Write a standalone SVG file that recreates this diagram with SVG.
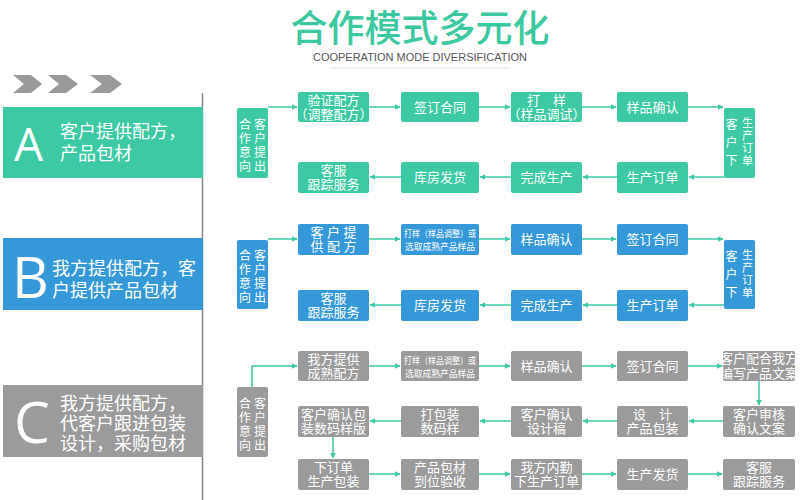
<svg xmlns="http://www.w3.org/2000/svg" width="800" height="500" viewBox="0 0 800 500">
<style>
text{font-family:"Liberation Sans","Noto Sans CJK SC",sans-serif;}
.t{fill:#3cc9a3}.b{fill:#3598d9}.g{fill:#9b9b9b}
.w{fill:#fff;font-size:13px;text-anchor:middle}
.ws{fill:#fff;font-size:9px;text-anchor:middle}
.v{fill:#fff;font-size:12px;text-anchor:middle}
.vs{fill:#fff;font-size:11px;text-anchor:middle}
.pan{fill:#fff;font-size:18px}
.big{fill:#fff;font-family:"Open Sans","Liberation Sans",sans-serif}
.c{stroke:#3cc9a3;stroke-width:1.5;fill:none;marker-end:url(#ah)}
</style>
<defs>
<marker id="ah" viewBox="0 0 10 10" refX="9" refY="5" markerWidth="6" markerHeight="6" orient="auto" markerUnits="userSpaceOnUse"><path d="M0,0 L10,5 L0,10 z" fill="#3cc9a3"/></marker>
</defs>
<rect width="800" height="500" fill="#fff"/>
<g id="title">
<text x="420" y="42" text-anchor="middle" font-size="37" font-weight="500" fill="#3cc9a0">合作模式多元化</text>
<text x="420" y="61" text-anchor="middle" font-size="11" fill="#555">COOPERATION MODE DIVERSIFICATION</text>
<line x1="330" y1="68" x2="510" y2="68" stroke="#e4e4e4" stroke-width="1"/>
</g>
<g id="chevrons" fill="#9a9a9a">
<path d="M13,75 L31,75 L42,84 L31,93 L13,93 L24,84 z"/>
<path d="M48,75 L66,75 L78,84 L66,93 L48,93 L59,84 z"/>
<path d="M90,75 L110,75 L122,84 L110,93 L90,93 L102,84 z"/>
</g>
<line x1="202.500" y1="93" x2="202.500" y2="500" stroke="#888" stroke-width="1.500"/>
<g id="panelA">
<rect x="3" y="107" width="200" height="71" class="t"/>
<text x="14" y="161" font-size="46" class="big">A</text>
<text x="60" y="138" class="pan">客户提供配方，</text>
<text x="60" y="160" class="pan">产品包材</text>
</g>
<g id="panelB">
<rect x="3" y="238" width="200" height="72" class="b"/>
<text x="12" y="298" font-size="57" class="big">B</text>
<text x="52" y="275" class="pan" font-size="17.500">我方提供配方，客</text>
<text x="52" y="297" class="pan" font-size="17.500">户提供产品包材</text>
</g>
<g id="panelC">
<rect x="3" y="385" width="200" height="72" class="g"/>
<text x="14" y="443" font-size="57" class="big">C</text>
<text x="60" y="410" class="pan" font-size="17">我方提供配方，</text>
<text x="60" y="430" class="pan" font-size="17">代客户跟进包装</text>
<text x="60" y="450" class="pan" font-size="17">设计，采购包材</text>
</g>

<g id="connectors">
<path class="c" d="M268,107 H297"/>
<path class="c" d="M369,107 H400"/>
<path class="c" d="M479,107 H510"/>
<path class="c" d="M582,107 H616"/>
<path class="c" d="M688,107 H723"/>
<path class="c" d="M724,177 H689"/>
<path class="c" d="M617,177 H583"/>
<path class="c" d="M511,177 H480"/>
<path class="c" d="M401,177 H370"/>
<path class="c" d="M268,239 H297"/>
<path class="c" d="M369,239 H400"/>
<path class="c" d="M479,239 H510"/>
<path class="c" d="M582,239 H616"/>
<path class="c" d="M688,239 H723"/>
<path class="c" d="M724,305 H689"/>
<path class="c" d="M617,305 H583"/>
<path class="c" d="M511,305 H480"/>
<path class="c" d="M401,305 H370"/>
<path class="c" d="M252,387 V366 H297"/>
<path class="c" d="M369,366 H400"/>
<path class="c" d="M479,366 H510"/>
<path class="c" d="M582,366 H616"/>
<path class="c" d="M688,366 H722"/>
<path class="c" d="M759,381 V405"/>
<path class="c" d="M723,421 H689"/>
<path class="c" d="M617,421 H583"/>
<path class="c" d="M511,421 H480"/>
<path class="c" d="M401,421 H370"/>
<path class="c" d="M333,437 V458"/>
<path class="c" d="M369,474 H400"/>
<path class="c" d="M479,474 H510"/>
<path class="c" d="M582,474 H616"/>
<path class="c" d="M688,474 H722"/>
</g>

<g id="a0"><rect x="237" y="108" width="31" height="70" rx="2" class="t"/>
<text class="v" x="245" y="129">合</text><text class="v" x="245" y="143">作</text><text class="v" x="245" y="157">意</text><text class="v" x="245" y="171">向</text>
<text class="v" x="260" y="129">客</text><text class="v" x="260" y="143">户</text><text class="v" x="260" y="157">提</text><text class="v" x="260" y="171">出</text></g>
<g id="a1"><rect x="298" y="92" width="71" height="30" rx="2" class="t"/><text class="w" x="333.500" y="105" font-size="12">验证配方</text><text class="w" x="333.500" y="119" font-size="12">（调整配方）</text></g>
<g id="a2"><rect x="401" y="92" width="78" height="30" rx="2" class="t"/><text class="w" x="440" y="112">签订合同</text></g>
<g id="a3"><rect x="511" y="92" width="71" height="30" rx="2" class="t"/><text class="w" x="546.500" y="105" font-size="12">打　样</text><text class="w" x="546.500" y="119" font-size="12">（样品调试）</text></g>
<g id="a4"><rect x="617" y="92" width="71" height="30" rx="2" class="t"/><text class="w" x="652.500" y="112">样品确认</text></g>
<g id="a5"><rect x="724" y="108" width="31" height="70" rx="2" class="t"/>
<text class="v" x="731.500" y="129">客</text><text class="v" x="731.500" y="147">户</text><text class="v" x="731.500" y="165">下</text>
<text class="vs" x="747.500" y="127">生</text><text class="vs" x="747.500" y="139.500">产</text><text class="vs" x="747.500" y="152">订</text><text class="vs" x="747.500" y="164.500">单</text></g>
<g id="a6"><rect x="617" y="162" width="71" height="31" rx="2" class="t"/><text class="w" x="652.500" y="182">生产订单</text></g>
<g id="a7"><rect x="511" y="162" width="71" height="31" rx="2" class="t"/><text class="w" x="546.500" y="182">完成生产</text></g>
<g id="a8"><rect x="401" y="162" width="78" height="31" rx="2" class="t"/><text class="w" x="440" y="182">库房发货</text></g>
<g id="a9"><rect x="298" y="162" width="71" height="31" rx="2" class="t"/><text class="w" x="333.500" y="175" font-size="12">客服</text><text class="w" x="333.500" y="189" font-size="12">跟踪服务</text></g>

<g id="b0"><rect x="237" y="240" width="31" height="69" rx="2" class="b"/>
<text class="v" x="245" y="260">合</text><text class="v" x="245" y="274">作</text><text class="v" x="245" y="288">意</text><text class="v" x="245" y="302">向</text>
<text class="v" x="260" y="260">客</text><text class="v" x="260" y="274">户</text><text class="v" x="260" y="288">提</text><text class="v" x="260" y="302">出</text></g>
<g id="b1"><rect x="298" y="224" width="71" height="31" rx="2" class="b"/><text class="w" x="333.500" y="237" font-size="12">客 户 提</text><text class="w" x="333.500" y="251" font-size="12">供 配 方</text></g>
<g id="b2"><rect x="401" y="224" width="78" height="31" rx="2" class="b"/><text class="ws" x="440" y="237" textLength="72" lengthAdjust="spacingAndGlyphs">打样（样品调整）或</text><text class="ws" x="440" y="250" textLength="70" lengthAdjust="spacingAndGlyphs">选取成熟产品样品</text></g>
<g id="b3"><rect x="511" y="224" width="71" height="31" rx="2" class="b"/><text class="w" x="546.500" y="244">样品确认</text></g>
<g id="b4"><rect x="617" y="224" width="71" height="31" rx="2" class="b"/><text class="w" x="652.500" y="244">签订合同</text></g>
<g id="b5"><rect x="724" y="240" width="31" height="69" rx="2" class="b"/>
<text class="v" x="731.500" y="261">客</text><text class="v" x="731.500" y="279">户</text><text class="v" x="731.500" y="297">下</text>
<text class="vs" x="747.500" y="259">生</text><text class="vs" x="747.500" y="271.500">产</text><text class="vs" x="747.500" y="284">订</text><text class="vs" x="747.500" y="296.500">单</text></g>
<g id="b6"><rect x="617" y="290" width="71" height="31" rx="2" class="b"/><text class="w" x="652.500" y="310">生产订单</text></g>
<g id="b7"><rect x="511" y="290" width="71" height="31" rx="2" class="b"/><text class="w" x="546.500" y="310">完成生产</text></g>
<g id="b8"><rect x="401" y="290" width="78" height="31" rx="2" class="b"/><text class="w" x="440" y="310">库房发货</text></g>
<g id="b9"><rect x="298" y="290" width="71" height="31" rx="2" class="b"/><text class="w" x="333.500" y="303" font-size="12">客服</text><text class="w" x="333.500" y="317" font-size="12">跟踪服务</text></g>

<g id="c0"><rect x="237" y="387" width="31" height="70" rx="2" class="g"/>
<text class="v" x="245" y="408">合</text><text class="v" x="245" y="422">作</text><text class="v" x="245" y="436">意</text><text class="v" x="245" y="450">向</text>
<text class="v" x="260" y="408">客</text><text class="v" x="260" y="422">户</text><text class="v" x="260" y="436">提</text><text class="v" x="260" y="450">出</text></g>
<g id="c1"><rect x="298" y="351" width="71" height="30" rx="2" class="g"/><text class="w" x="333.500" y="364" font-size="12">我方提供</text><text class="w" x="333.500" y="378" font-size="12">成熟配方</text></g>
<g id="c2"><rect x="401" y="351" width="78" height="30" rx="2" class="g"/><text class="ws" x="440" y="364" textLength="72" lengthAdjust="spacingAndGlyphs">打样（样品调整）或</text><text class="ws" x="440" y="377" textLength="70" lengthAdjust="spacingAndGlyphs">选取成熟产品样品</text></g>
<g id="c3"><rect x="511" y="351" width="71" height="30" rx="2" class="g"/><text class="w" x="546.500" y="371">样品确认</text></g>
<g id="c4"><rect x="617" y="351" width="71" height="30" rx="2" class="g"/><text class="w" x="652.500" y="371">签订合同</text></g>
<g id="c5"><rect x="723" y="351" width="72" height="30" rx="2" class="g"/><text class="w" x="759" y="363" font-size="10.500">客户配合我方</text><text class="w" x="759" y="377.500" font-size="10.500">编写产品文案</text></g>
<g id="c6"><rect x="723" y="406" width="72" height="31" rx="2" class="g"/><text class="w" x="759" y="419" font-size="12">客户审核</text><text class="w" x="759" y="433" font-size="12">确认文案</text></g>
<g id="c7"><rect x="617" y="406" width="71" height="31" rx="2" class="g"/><text class="w" x="652.500" y="419" font-size="12">设　计</text><text class="w" x="652.500" y="433" font-size="12">产品包装</text></g>
<g id="c8"><rect x="511" y="406" width="71" height="31" rx="2" class="g"/><text class="w" x="546.500" y="419" font-size="12">客户确认</text><text class="w" x="546.500" y="433" font-size="12">设计稿</text></g>
<g id="c9"><rect x="401" y="406" width="78" height="31" rx="2" class="g"/><text class="w" x="440" y="419" font-size="12">打包装</text><text class="w" x="440" y="433" font-size="12">数码样</text></g>
<g id="c10"><rect x="298" y="406" width="71" height="31" rx="2" class="g"/><text class="w" x="333.500" y="419" font-size="12">客户确认包</text><text class="w" x="333.500" y="433" font-size="12">装数码样版</text></g>
<g id="c11"><rect x="298" y="459" width="71" height="31" rx="2" class="g"/><text class="w" x="333.500" y="472" font-size="12">下订单</text><text class="w" x="333.500" y="486" font-size="12">生产包装</text></g>
<g id="c12"><rect x="401" y="459" width="78" height="31" rx="2" class="g"/><text class="w" x="440" y="472" font-size="12">产品包材</text><text class="w" x="440" y="486" font-size="12">到位验收</text></g>
<g id="c13"><rect x="511" y="459" width="71" height="31" rx="2" class="g"/><text class="w" x="546.500" y="472" font-size="12">我方内勤</text><text class="w" x="546.500" y="486" font-size="12">下生产订单</text></g>
<g id="c14"><rect x="617" y="459" width="71" height="31" rx="2" class="g"/><text class="w" x="652.500" y="479">生产发货</text></g>
<g id="c15"><rect x="723" y="459" width="72" height="31" rx="2" class="g"/><text class="w" x="759" y="472" font-size="12">客服</text><text class="w" x="759" y="486" font-size="12">跟踪服务</text></g>
</svg>
